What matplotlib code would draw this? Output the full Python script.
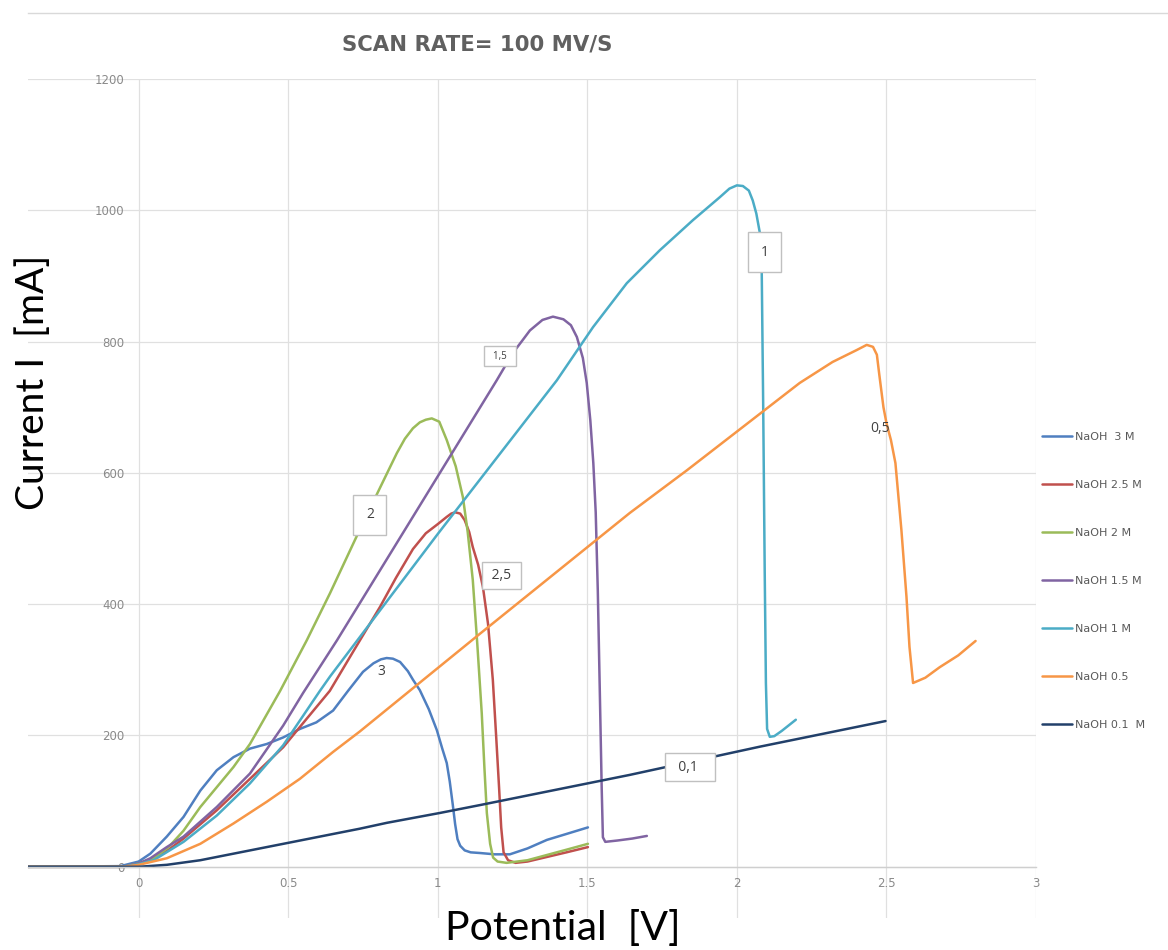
import matplotlib
matplotlib.use("Agg")
import matplotlib.pyplot as plt
from matplotlib.lines import Line2D

# ---------------- data ----------------
x_3M = [-0.37, -0.061, 0.0, 0.039, 0.094, 0.15, 0.206, 0.261, 0.317, 0.372, 0.428, 0.483, 0.539, 0.594,
        0.65, 0.7, 0.75, 0.785, 0.81, 0.829, 0.85, 0.874, 0.90, 0.917, 0.94, 0.97, 0.997, 1.015, 1.03,
        1.04, 1.05, 1.058, 1.066, 1.075, 1.09, 1.11, 1.141, 1.19, 1.241, 1.30, 1.365, 1.43, 1.502]
y_3M = [0, 1, 8, 20, 46, 76, 116, 147, 167, 180, 187, 197, 210, 220,
        238, 268, 297, 310, 316, 318, 317, 312, 298, 285, 269, 240, 208, 180, 158,
        130, 95, 65, 42, 32, 25, 22, 21, 19, 19, 28, 41, 50, 60]

x_25M = [-0.37, -0.05, 0.0, 0.05, 0.1, 0.15, 0.261, 0.372, 0.483, 0.539, 0.639, 0.72, 0.807,
         0.86, 0.917, 0.96, 1.0, 1.03, 1.045, 1.058, 1.075, 1.09, 1.105, 1.117, 1.135, 1.151, 1.168, 1.184,
         1.195, 1.205, 1.212, 1.22, 1.235, 1.26, 1.30, 1.365, 1.43, 1.502]
y_25M = [0, 0, 5, 12, 26, 43, 86, 134, 182, 213, 268, 330, 396,
         440, 484, 508, 522, 533, 538, 540, 538, 528, 510, 487, 460, 426, 370, 285,
         200, 120, 60, 22, 10, 6, 8, 15, 22, 30]

x_2M = [-0.37, -0.05, 0.0, 0.05, 0.1, 0.15, 0.206, 0.317, 0.372, 0.473, 0.562, 0.64, 0.75, 0.863,
        0.89, 0.917, 0.94, 0.96, 0.98, 1.005, 1.03, 1.06, 1.084, 1.10, 1.117, 1.132, 1.147, 1.156,
        1.164, 1.175, 1.185, 1.20, 1.23, 1.30, 1.365, 1.43, 1.502]
y_2M = [0, 0, 5, 13, 30, 55, 91, 152, 187, 268, 345, 417, 524, 630,
        652, 668, 677, 681, 683, 678, 650, 610, 563, 510, 437, 340, 234, 150,
        82, 35, 14, 8, 6, 10, 18, 26, 35]

x_15M = [-0.37, -0.05, 0.0, 0.039, 0.094, 0.15, 0.261, 0.372, 0.483, 0.55, 0.663, 1.007, 1.197, 1.25,
         1.28, 1.308, 1.35, 1.385, 1.42, 1.445, 1.465, 1.485, 1.498, 1.51, 1.52, 1.528, 1.535, 1.542,
         1.548, 1.552, 1.56, 1.60, 1.65, 1.699]
y_15M = [0, 0, 5, 13, 30, 46, 91, 142, 215, 265, 345, 600, 741, 782,
         800, 817, 833, 838, 834, 825, 807, 775, 737, 680, 615, 540, 420, 260,
         120, 45, 38, 40, 43, 47]

x_1M = [-0.37, -0.05, 0.0, 0.05, 0.1, 0.15, 0.261, 0.372, 0.483, 0.606, 0.64, 1.0, 1.398, 1.519,
        1.632, 1.742, 1.853, 1.943, 1.975, 2.0, 2.02, 2.04, 2.053, 2.065, 2.077, 2.083, 2.088, 2.093,
        2.097, 2.101, 2.11, 2.125, 2.15, 2.197]
y_1M = [0, 0, 4, 10, 24, 38, 78, 127, 185, 268, 290, 507, 741, 822,
        889, 939, 985, 1020, 1033, 1038, 1037, 1030, 1015, 995, 965, 909, 700, 450,
        280, 210, 198, 199, 207, 224]

x_05M = [-0.37, -0.05, 0.0, 0.094, 0.206, 0.317, 0.428, 0.539, 0.65, 0.739, 0.917, 1.141, 1.642, 1.833,
         2.21, 2.32, 2.40, 2.434, 2.455, 2.468, 2.476, 2.49, 2.50, 2.515, 2.53, 2.55, 2.567, 2.577,
         2.589, 2.63, 2.678, 2.74, 2.798]
y_05M = [0, 0, 3, 13, 35, 66, 99, 134, 175, 206, 272, 355, 539, 604,
         737, 769, 787, 795, 792, 780, 750, 700, 676, 650, 615, 513, 411, 335,
         280, 288, 304, 322, 344]

x_01M = [-0.37, -0.05, 0.0, 0.094, 0.206, 0.317, 0.428, 0.539, 0.65, 0.739, 0.83, 1.007, 1.141, 1.642,
         2.077, 2.497]
y_01M = [0, 0, 0, 3, 10, 20, 30, 40, 50, 58, 67, 82, 94, 140,
         183, 222]

series_labels = ["NaOH  3 M", "NaOH 2.5 M", "NaOH 2 M", "NaOH 1.5 M", "NaOH 1 M", "NaOH 0.5", "NaOH 0.1  M"]
series_colors = ["#4F7FC0", "#C0504D", "#9BBB59", "#8064A2", "#4BACC6", "#F79646", "#22406A"]

x_ticks = [0, 0.5, 1, 1.5, 2, 2.5, 3]
x_tick_labels = ["0", "0.5", "1", "1.5", "2", "2.5", "3"]
y_ticks = [0, 200, 400, 600, 800, 1000, 1200]
y_tick_labels = ["0", "200", "400", "600", "800", "1000", "1200"]

# curve labels
ann_text = ["1", "1,5", "2", "2,5", "0,1", "0,5", "3"]
ann_x = [2.093, 1.208, 0.773, 1.214, 1.843, 2.477, 0.81]
ann_y = [936, 778, 536, 444, 152, 668, 297]
ann_boxed = [True, True, True, True, True, False, False]

# ---------------- figure ----------------
W, H = 1168, 950
fig = plt.figure(figsize=(W / 100, H / 100), dpi=100)
fig.patch.set_facecolor("white")

def fx(px):
    return px / W

def fy(py):
    return 1 - py / H

ax = fig.add_axes([fx(28), fy(918), fx(1036) - fx(28), fy(79) - fy(918)])
ax.set_xlim(-0.37, 3.0)
ax.set_ylim(-78, 1200)

for sp in ["top", "right"]:
    ax.spines[sp].set_visible(False)
ax.spines["left"].set_position(("data", 0))
ax.spines["bottom"].set_position(("data", 0))
ax.spines["left"].set_color("none")
ax.spines["bottom"].set_color("#cfcfcf")
ax.spines["bottom"].set_linewidth(1.0)

ax.set_xticks(x_ticks)
ax.set_xticklabels(x_tick_labels)
ax.set_yticks(y_ticks)
ax.set_yticklabels(y_tick_labels)
ax.tick_params(axis="both", length=0, labelsize=8.5, labelcolor="#8a8a8a")
ax.tick_params(axis="y", pad=10)
ax.tick_params(axis="x", pad=7)
ax.grid(True, color="#e0e0e0", linewidth=0.9)
ax.set_axisbelow(True)

xs = [x_3M, x_25M, x_2M, x_15M, x_1M, x_05M, x_01M]
ys = [y_3M, y_25M, y_2M, y_15M, y_1M, y_05M, y_01M]
handles = []
for xv, yv, lab, col in zip(xs, ys, series_labels, series_colors):
    h, = ax.plot(xv, yv, color=col, linewidth=1.8, label=lab,
                 solid_joinstyle="round", solid_capstyle="round")
    handles.append(h)

for t, xa, ya, boxed in zip(ann_text, ann_x, ann_y, ann_boxed):
    fs = 7 if t == "1,5" else 10
    if boxed:
        txt = t
        if t == "0,1":
            txt = "  0,1   "
        elif t == "2,5":
            txt = " 2,5 "
        elif t == "1,5":
            txt = "  1,5  "
        pad = 0.9 if t in ("1", "2") else 0.45
        ax.text(xa, ya, txt, fontsize=fs, color="#404040", ha="center", va="center",
                family="Open Sans",
                bbox=dict(boxstyle=f"square,pad={pad}", facecolor="white", edgecolor="#c0c0c0",
                          linewidth=1.0), zorder=5)
    else:
        ax.text(xa, ya, t, fontsize=fs, color="#404040", ha="center", va="center",
                family="Open Sans", zorder=5)

leg = ax.legend(handles=handles, loc="upper left", bbox_to_anchor=(fx(1042), fy(432)),
                bbox_transform=fig.transFigure, frameon=False, fontsize=8,
                labelcolor="#595959", handlelength=2.7, handletextpad=0.3,
                labelspacing=3.42, borderpad=0, borderaxespad=0)

fig.text(fx(477), fy(45), "SCAN RATE= 100 MV/S", fontsize=15.3, fontweight="bold",
         color="#606060", ha="center", va="center", family="DejaVu Sans")
fig.text(fx(33), fy(382), "Current I  [mA]", fontsize=28, color="black", rotation=90,
         ha="center", va="center", family="Lato")
fig.text(fx(563), fy(928), "Potential  [V]", fontsize=29.5, color="black",
         ha="center", va="center", family="Lato")

fig.add_artist(Line2D([fx(28), 1.0], [fy(13), fy(13)], color="#d9d9d9", linewidth=1.0))

fig.savefig("out.png", dpi=100, facecolor="white")
